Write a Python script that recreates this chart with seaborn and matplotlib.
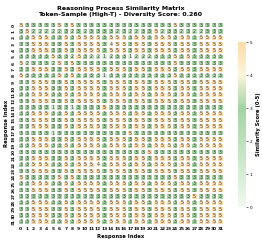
import numpy as np
import pandas as pd
import matplotlib
matplotlib.use("Agg")
import matplotlib.pyplot as plt
import seaborn as sns
from matplotlib.colors import LinearSegmentedColormap

# similarity scores (0-5) between the 32 sampled responses, one string per row
score_rows = [
    "53333353533333333333333353333333",
    "35222223232333323223352332322333",
    "33555335355553555355355535535555",
    "33555335355553455355355535535555",
    "33555335355553555355355535535555",
    "33333533253221233122233353533333",
    "52333253533333333333333353333333",
    "33555335355553555355355535535555",
    "53333353533331333333333353333333",
    "33555335355553555355355535535555",
    "33555335355553555355355535535555",
    "33555335355553555355355535535555",
    "33555335355553555355355535535555",
    "33333133133335333333333333333333",
    "33555335355553555355355535535555",
    "33555335355553555355355535535555",
    "33555335355553555355355535535555",
    "33333133333333333533333333333333",
    "33555335355553555355355535535555",
    "33555335355553555355355535535555",
    "33333333333333333333533333333333",
    "33555335355553555355355535535555",
    "33555335355543555355355535535555",
    "33555335355553555355355535535555",
    "53333353533333333333333353333333",
    "33555335355553555355355535535555",
    "33555335355553555355355535535555",
    "33333333333333333333333333353333",
    "33555335355553555355355535535555",
    "33555335355553555355355535535555",
    "33555335355553555355355535535555",
    "33555335355553555355355535535555",
]
response_ids = list(range(32))
diversity_score = 0.260

scores = pd.DataFrame([[int(c) for c in r] for r in score_rows],
                      index=response_ids, columns=response_ids)

cmap = LinearSegmentedColormap.from_list(
    "sim", [(0.0, "#effaee"), (0.6, "#a4d3a2"), (0.8, "#fbf5dc"), (1.0, "#fddcaa")])

fig = plt.figure(figsize=(2.62, 2.45), dpi=100)
ax = fig.add_axes([17.5 / 262, 1 - 225 / 245, 206 / 262, 203 / 245])
cax = fig.add_axes([238 / 262, 1 - 207 / 245, 8 / 262, 165 / 245])

sns.heatmap(scores, ax=ax, cbar_ax=cax, cmap=cmap, vmin=0, vmax=5,
            annot=True, fmt="d", annot_kws={"size": 3.4, "color": "#333333"},
            linewidths=0.15, linecolor="white")

ax.set_xticks(np.arange(32) + 0.5)
ax.set_xticklabels(response_ids, fontsize=3.2, fontweight="bold", rotation=0)
ax.set_yticks(np.arange(32) + 0.5)
ax.set_yticklabels(response_ids, fontsize=3.2, fontweight="bold", rotation=90, va="center")
ax.tick_params(length=0, pad=1.5)
ax.set_xlabel("Response Index", fontsize=3.8, fontweight="bold", labelpad=2)
ax.set_ylabel("Response Index", fontsize=3.8, fontweight="bold", labelpad=2)
ax.set_title("Reasoning Process Similarity Matrix\n"
             f"Token-Sample (High-T) - Diversity Score: {diversity_score:.3f}",
             fontsize=4.5, fontweight="bold", pad=4, linespacing=1.25)

cax.tick_params(labelsize=3.1, length=1.5, width=0.4, pad=1)
cax.set_ylabel("Similarity Score (0-5)", fontsize=3.8, fontweight="bold", labelpad=3)
for s in cax.spines.values():
    s.set_visible(False)

fig.savefig("out.png", dpi=100)
